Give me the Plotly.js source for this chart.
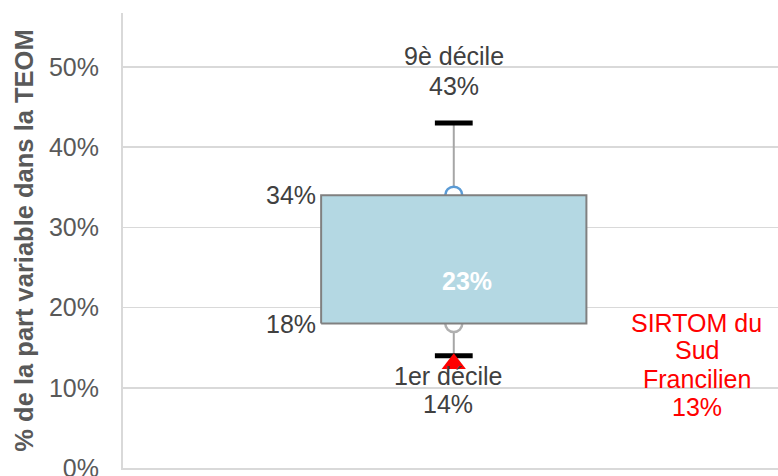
<!DOCTYPE html>
<html><head><meta charset="utf-8">
<script src="https://cdn.plot.ly/plotly-3.0.1.min.js"></script>
<style>html,body{margin:0;padding:0;background:#fff}#chart{width:778px;height:476px}</style>
</head><body><div id="chart"></div>
<script>
// Data
const categories = [0];            // single box position
const decile1 = [0.14];
const quartile1 = [0.18];
const median = [0.23];
const quartile3 = [0.34];
const decile9 = [0.43];
const sirtomValue = [0.13];
const sirtomNameLines = ['SIRTOM du', 'Sud', 'Francilien'];
const decile9Label = '9è décile';
const decile1Label = '1er décile';
const yTickVals = [0, 0.1, 0.2, 0.3, 0.4, 0.5];
const yTickText = ['0%', '10%', '20%', '30%', '40%', '50%'];

const boxW = 0.81;
const x0 = categories[0];
const pct = v => Math.round(v * 100) + '%';
const font = 'Liberation Sans, Arial, sans-serif';
const FS = 25;

const traces = [
  // whiskers
  {x: [x0, x0], y: [quartile3[0], decile9[0]], mode: 'lines', line: {color: '#a6a6a6', width: 2}, hoverinfo: 'skip'},
  {x: [x0, x0], y: [quartile1[0], decile1[0]], mode: 'lines', line: {color: '#a6a6a6', width: 2}, hoverinfo: 'skip'},
  // quartile circles
  {x: [x0], y: quartile3, mode: 'markers', marker: {symbol: 'circle', size: 17, color: '#ffffff', line: {color: '#5b9bd5', width: 2.5}}},
  {x: [x0], y: quartile1, mode: 'markers', marker: {symbol: 'circle', size: 17, color: '#ffffff', line: {color: '#b0b0b0', width: 2.5}}},
  // box
  {x: [x0 - boxW/2, x0 + boxW/2, x0 + boxW/2, x0 - boxW/2, x0 - boxW/2],
   y: [quartile1[0], quartile1[0], quartile3[0], quartile3[0], quartile1[0]],
   mode: 'lines', fill: 'toself', fillcolor: '#b4d8e3', line: {color: '#808080', width: 2}},
  // decile caps
  {x: [x0, x0], y: [decile9[0], decile1[0]], mode: 'markers',
   marker: {symbol: 'line-ew', size: 27, line: {color: '#000000', width: 5}}},
  // SIRTOM
  {x: [x0], y: sirtomValue, mode: 'markers', marker: {symbol: 'triangle-up', size: 21, color: '#ff0000'}}
];

const ann = (o) => Object.assign({xref: 'x', yref: 'y', showarrow: false, font: {family: font, size: FS, color: '#404040'}}, o);
const red = {family: font, size: FS, color: '#ff0000'};

const sirtomLines = sirtomNameLines.concat([pct(sirtomValue[0])]);
const sirtomShifts = [41, 14, -15, -43];

const layout = {
  width: 778, height: 476,
  margin: {l: 123, r: 0, t: 13, b: 8},
  paper_bgcolor: '#ffffff', plot_bgcolor: '#ffffff',
  showlegend: false,
  font: {family: font, size: FS, color: '#595959'},
  xaxis: {range: [-1.01, 0.99], showgrid: false, zeroline: false, showticklabels: false,
          showline: true, linecolor: '#d9d9d9', linewidth: 2, fixedrange: true},
  yaxis: {range: [0, 0.567], tickvals: yTickVals, ticktext: yTickText,
          showgrid: true, gridcolor: '#d9d9d9', gridwidth: 1.5, zeroline: false,
          showline: true, linecolor: '#d9d9d9', linewidth: 2,
          ticks: '', ticklabelstandoff: 17, ticklabeloverflow: 'allow',
          tickfont: {family: font, size: FS, color: '#595959'},
          title: {text: '<b>% de la part variable dans la TEOM</b>', standoff: 8,
                  font: {family: font, size: 25.5, color: '#595959'}}},
  annotations: [
    ann({x: x0, y: decile9[0], yshift: 67, text: decile9Label}),
    ann({x: x0, y: decile9[0], yshift: 37, text: pct(decile9[0])}),
    ann({x: x0 - boxW/2, y: quartile3[0], xanchor: 'right', xshift: -3, text: pct(quartile3[0])}),
    ann({x: x0 - boxW/2, y: quartile1[0], xanchor: 'right', xshift: -3, text: pct(quartile1[0])}),
    ann({x: x0, y: median[0], xshift: 13, yshift: 2, text: '<b>' + pct(median[0]) + '</b>', font: {family: font, size: FS, color: '#ffffff'}}),
    ann({x: x0, y: decile1[0], yshift: -20, xshift: -6, text: decile1Label}),
    ann({x: x0, y: decile1[0], yshift: -48, xshift: -6, text: pct(decile1[0])})
  ].concat(sirtomLines.map((t, i) => ann({x: x0, y: sirtomValue[0], xshift: 243, yshift: sirtomShifts[i], text: t, font: red})))
};

Plotly.newPlot('chart', traces, layout, {displayModeBar: false, staticPlot: true});
</script></body></html>
